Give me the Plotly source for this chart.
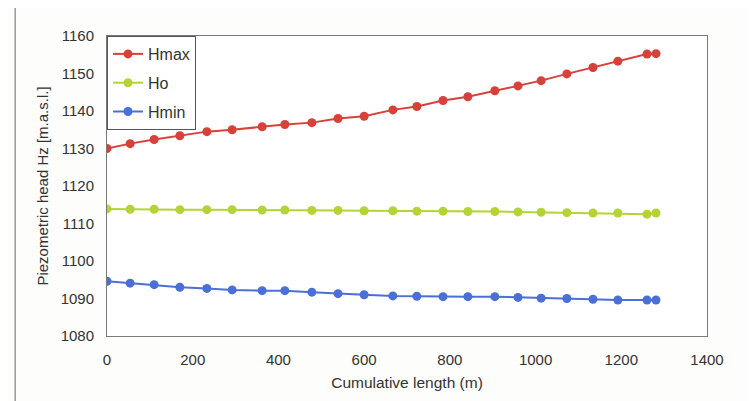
import plotly.graph_objects as go

x_len = [0, 54, 110, 170, 233, 292, 362, 415, 478, 539, 600, 667, 723, 784, 842,
         905, 959, 1013, 1073, 1134, 1192, 1260, 1281]
h_max = [1130.0, 1131.3, 1132.4, 1133.4, 1134.5, 1135.0, 1135.8, 1136.4, 1136.9, 1138.0,
         1138.6, 1140.3, 1141.2, 1142.8, 1143.8, 1145.4, 1146.7, 1148.1, 1149.9, 1151.6,
         1153.3, 1155.2, 1155.3]
h_o = [1113.9, 1113.8, 1113.8, 1113.7, 1113.7, 1113.7, 1113.6, 1113.6, 1113.5, 1113.5,
       1113.4, 1113.4, 1113.3, 1113.3, 1113.2, 1113.2, 1113.1, 1113.0, 1112.9, 1112.8,
       1112.8, 1112.5, 1112.8]
h_min = [1094.6, 1094.1, 1093.7, 1093.0, 1092.7, 1092.3, 1092.1, 1092.1, 1091.7, 1091.3,
         1091.0, 1090.7, 1090.6, 1090.5, 1090.5, 1090.5, 1090.3, 1090.1, 1090.0, 1089.8,
         1089.6, 1089.6, 1089.6]

series = [("Hmax", h_max, "#d8403a"), ("Ho", h_o, "#b4d436"), ("Hmin", h_min, "#4a6fd6")]

fig = go.Figure()
for name, ys, col in series:
    fig.add_trace(go.Scatter(
        x=x_len, y=ys, name=name, mode="lines+markers", legendgroup=name,
        line=dict(color=col, width=2),
        marker=dict(color=col, size=9),
    ))

font = "Liberation Sans, Arial, sans-serif"
fig.update_layout(
    width=748, height=393,
    margin=dict(l=99, r=49, t=28, b=65),
    paper_bgcolor="#fdfdfc", plot_bgcolor="#ffffff",
    font=dict(family=font, size=15, color="#333333"),
    showlegend=True,
    legend=dict(x=0, y=1, xanchor="left", yanchor="top",
                bordercolor="#555555", borderwidth=1, bgcolor="#ffffff",
                font=dict(size=16, color="#333333"),
                tracegroupgap=5, traceorder="grouped"),
    xaxis=dict(range=[0, 1400], dtick=200, showgrid=False, zeroline=False,
               showline=True, mirror=True, linecolor="#7a7a7a", linewidth=1,
               ticks="", ticklabelstandoff=10,
               title=dict(text="Cumulative length (m)", font=dict(size=15.5), standoff=10),
               tickfont=dict(size=15)),
    yaxis=dict(range=[1080, 1160], dtick=10, showgrid=False, zeroline=False,
               showline=True, mirror=True, linecolor="#7a7a7a", linewidth=1,
               ticks="", ticklabelstandoff=9,
               title=dict(text="Piezometric head Hz [m.a.s.l.]", font=dict(size=15), standoff=8),
               tickfont=dict(size=15)),
)
fig.add_shape(type="line", xref="paper", yref="paper", x0=-0.153, x1=-0.153, y0=-0.3, y1=1.15,
              line=dict(color="#999999", width=1.5))
fig.write_html("out.html")
